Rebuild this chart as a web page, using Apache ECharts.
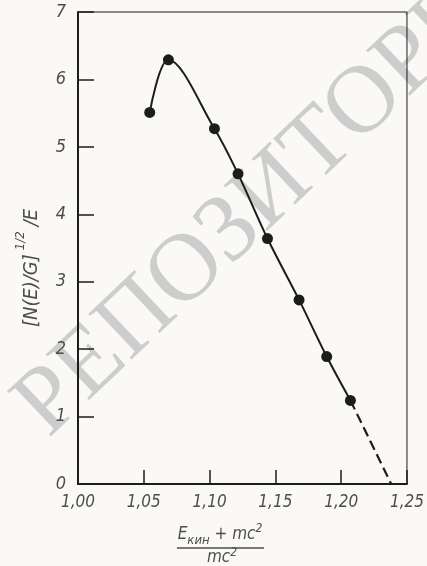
<!DOCTYPE html>
<html>
<head>
<meta charset="utf-8">
<script src="https://cdn.jsdelivr.net/npm/echarts@6/dist/echarts.min.js"></script>
<style>
  html, body { margin: 0; padding: 0; background: #faf9f5; }
  #chart { width: 427px; height: 566px; }
</style>
</head>
<body>
<div id="chart"></div>
<script>
// Kurie plot: measured points, the fitted curve through them and the
// dashed linear extrapolation down to the spectrum end point.
const xTicks = [1.00, 1.05, 1.10, 1.15, 1.20, 1.25];
const yTicks = [0, 1, 2, 3, 4, 5, 6, 7];

const energyRatio = [1.0545, 1.0687, 1.1037, 1.1216, 1.144, 1.168, 1.189, 1.207];
const kurieValue  = [5.51, 6.29, 5.27, 4.60, 3.64, 2.73, 1.89, 1.24];

const extrapRatio = [1.207, 1.238];
const extrapValue = [1.24, 0];

const INK = '#1c1c1c';
const LABEL = '#4d4d4d';
const FONT = "'DejaVu Sans Condensed', 'Liberation Sans Narrow', 'DejaVu Sans', sans-serif";

const pairs = (xs, ys) => xs.map((x, i) => [x, ys[i]]);
const comma = v => v.toFixed(2).replace('.', ',');

const chart = echarts.init(document.getElementById('chart'), null, { renderer: 'canvas' });

chart.setOption({
  backgroundColor: 'transparent',
  animation: false,
  grid: {
    left: 78, right: 12, top: 12, bottom: 82,
    show: true, borderColor: INK, borderWidth: 1, backgroundColor: 'transparent'
  },
  xAxis: {
    type: 'value',
    min: xTicks[0], max: xTicks[xTicks.length - 1], interval: 0.05,
    axisLine: { show: true, lineStyle: { color: INK, width: 2 } },
    axisTick: { show: true, inside: true, length: 14, lineStyle: { color: INK, width: 1.5 } },
    splitLine: { show: false },
    axisLabel: {
      margin: 10, color: LABEL, fontSize: 17, fontStyle: 'italic', fontFamily: FONT,
      formatter: v => comma(v)
    }
  },
  yAxis: {
    type: 'value',
    min: yTicks[0], max: yTicks[yTicks.length - 1], interval: 1,
    axisLine: { show: true, lineStyle: { color: INK, width: 2 } },
    axisTick: { show: true, inside: true, length: 16, lineStyle: { color: INK, width: 1.5 } },
    splitLine: { show: false },
    axisLabel: {
      margin: 12, color: LABEL, fontSize: 18, fontStyle: 'italic', fontFamily: FONT
    }
  },
  series: [
    {
      type: 'line',
      data: pairs(energyRatio, kurieValue),
      smooth: 0.35,
      symbol: 'circle',
      symbolSize: 11,
      itemStyle: { color: INK },
      lineStyle: { color: INK, width: 2 },
      z: 5
    },
    {
      type: 'line',
      data: pairs(extrapRatio, extrapValue),
      showSymbol: false,
      lineStyle: { color: INK, width: 2.2, type: [10, 5] },
      z: 4
    }
  ],
  graphic: [
    {
      type: 'text',
      z: -100,
      silent: true,
      x: 280, y: 184,
      rotation: 43.5 * Math.PI / 180,
      style: {
        text: 'РЕПОЗИТОРИЙ',
        fill: '#cdcdcd',
        font: "96px 'Liberation Serif', 'DejaVu Serif', serif",
        align: 'center',
        verticalAlign: 'middle'
      }
    },
    {
      type: 'text',
      x: 28, y: 268,
      rotation: Math.PI / 2,
      style: {
        text: '{m|[N(E)/G]}{s|1/2}{m|/E}',
        align: 'center',
        verticalAlign: 'middle',
        rich: {
          m: { fontSize: 20, fontStyle: 'italic', fontFamily: FONT, fill: LABEL, lineHeight: 28, verticalAlign: 'bottom' },
          s: { fontSize: 13, fontStyle: 'italic', fontFamily: FONT, fill: LABEL, lineHeight: 28, verticalAlign: 'top', padding: [0, 5, 0, 4] }
        }
      }
    },
    {
      type: 'text',
      x: 220, y: 535,
      style: {
        text: '{m|E}{b|кин}{m| + mc}{s|2}',
        align: 'center',
        verticalAlign: 'middle',
        rich: {
          m: { fontSize: 17, fontStyle: 'italic', fontFamily: FONT, fill: LABEL, lineHeight: 24, verticalAlign: 'middle' },
          b: { fontSize: 13, fontStyle: 'italic', fontFamily: FONT, fill: LABEL, lineHeight: 24, verticalAlign: 'bottom' },
          s: { fontSize: 12, fontStyle: 'italic', fontFamily: FONT, fill: LABEL, lineHeight: 24, verticalAlign: 'top' }
        }
      }
    },
    {
      type: 'line',
      shape: { x1: 177, y1: 548, x2: 264, y2: 548 },
      style: { stroke: LABEL, lineWidth: 1.5 }
    },
    {
      type: 'text',
      x: 222, y: 558,
      style: {
        text: '{m|mc}{s|2}',
        align: 'center',
        verticalAlign: 'middle',
        rich: {
          m: { fontSize: 17, fontStyle: 'italic', fontFamily: FONT, fill: LABEL, lineHeight: 22, verticalAlign: 'middle' },
          s: { fontSize: 12, fontStyle: 'italic', fontFamily: FONT, fill: LABEL, lineHeight: 22, verticalAlign: 'top' }
        }
      }
    }
  ]
});
</script>
</body>
</html>
